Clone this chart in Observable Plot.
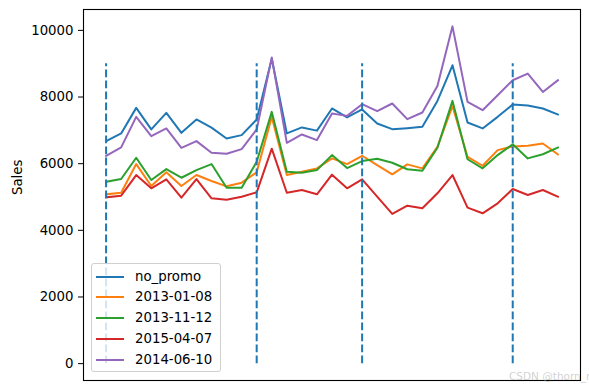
<!DOCTYPE html>
<html><head><meta charset="utf-8">
<script src="https://cdn.jsdelivr.net/npm/d3@7"></script>
<script src="https://cdn.jsdelivr.net/npm/@observablehq/plot@0.6"></script>
<style>
body{margin:0;background:#fff;font-family:"DejaVu Sans",sans-serif;}
#wrap{position:relative;width:589px;height:389px;}
.legend{position:absolute;left:91px;top:263px;width:130px;height:109px;box-sizing:border-box;border:1px solid #d0d0d0;border-radius:3px;background:rgba(255,255,255,0.8);}
.row{position:absolute;left:0;height:20px;width:128px;}
.sw{position:absolute;left:4px;top:9px;width:28px;height:2px;}
.lb{position:absolute;left:43px;top:1px;font-size:13.3px;line-height:18px;color:#000;}
.wm{position:absolute;left:509px;top:370px;font-size:10.5px;color:rgba(170,170,170,0.55);white-space:nowrap;}
</style></head>
<body><div id="wrap"></div>
<script>
const seriesNames = ["no_promo", "2013-01-08", "2013-11-12", "2015-04-07", "2014-06-10"];
const colors = ["#1f77b4", "#ff7f0e", "#2ca02c", "#d62728", "#9467bd"];
const noPromo = [6677, 6907, 7674, 7027, 7524, 6925, 7326, 7080, 6757, 6856, 7326, 9152, 6907, 7087, 6991, 7656, 7386, 7626, 7207, 7036, 7066, 7105, 7883, 8952, 7236, 7057, 7405, 7775, 7745, 7655, 7476];
const s20130108 = [5081, 5129, 5988, 5329, 5740, 5329, 5659, 5480, 5320, 5430, 5740, 7404, 5659, 5758, 5859, 6158, 5988, 6237, 5958, 5680, 5979, 5859, 6506, 7725, 6207, 5938, 6407, 6517, 6537, 6607, 6277];
const s20131112 = [5458, 5539, 6177, 5509, 5838, 5578, 5808, 5988, 5278, 5278, 6057, 7554, 5758, 5728, 5808, 6257, 5868, 6078, 6148, 6027, 5833, 5788, 6476, 7884, 6133, 5859, 6257, 6582, 6158, 6282, 6482];
const s20150407 = [4991, 5039, 5659, 5260, 5530, 4980, 5539, 4961, 4920, 5009, 5141, 6450, 5129, 5210, 5081, 5670, 5260, 5530, 5010, 4491, 4740, 4661, 5110, 5659, 4680, 4511, 4810, 5240, 5060, 5210, 5010];
const s20140610 = [6237, 6488, 7404, 6826, 7057, 6476, 6677, 6326, 6296, 6437, 7027, 9183, 6626, 6877, 6707, 7506, 7434, 7784, 7575, 7805, 7335, 7536, 8332, 10120, 7854, 7605, 8054, 8503, 8703, 8153, 8503];
const promoIdx = [0, 10, 17, 27];
const vlineLow = 0, vlineHigh = 9000;
const yTicks = [0, 2000, 4000, 6000, 8000, 10000];
const yLabel = "Sales";

const allSeries = [noPromo, s20130108, s20131112, s20150407, s20140610];
const rows = [];
allSeries.forEach((arr, k) => arr.forEach((v, i) => rows.push({series: seriesNames[k], i, v})));
const vlines = promoIdx.map(x => ({x, y1: vlineLow, y2: vlineHigh}));

const n = noPromo.length;
const xPad = (n - 1) * 0.05;
const allVals = rows.map(d => d.v).concat([vlineLow, vlineHigh]);
const yMin = d3.min(allVals), yMax = d3.max(allVals);
const yPad = (yMax - yMin) * 0.05;

const chart = Plot.plot({
  width: 589, height: 389,
  marginLeft: 83, marginRight: 9, marginTop: 9, marginBottom: 9,
  style: {fontFamily: "DejaVu Sans, sans-serif", fontSize: "13.3px", color: "#000", background: "#fff"},
  x: {domain: [-xPad, n - 1 + xPad], axis: null},
  y: {domain: [yMin - yPad, yMax + yPad]},
  color: {domain: seriesNames, range: colors},
  marks: [
    Plot.line(rows, {x: "i", y: "v", z: "series", stroke: "series", strokeWidth: 2, strokeLinejoin: "round", strokeLinecap: "square"}),
    Plot.ruleX(vlines, {x: "x", y1: "y1", y2: "y2", stroke: "#1f77b4", strokeWidth: 2, strokeDasharray: "7.7,3.3"}),
    Plot.axisY({ticks: yTicks, tickSize: 5, tickPadding: 5, tickFormat: d => String(d), label: null, stroke: "#000"}),
    Plot.text([yLabel], {frameAnchor: "left", dx: -66, rotate: -90, text: d => d, fill: "#000"}),
    Plot.frame({stroke: "#000", strokeWidth: 1.1})
  ]
});
const wrap = document.getElementById("wrap");
wrap.appendChild(chart);

const leg = document.createElement("div");
leg.className = "legend";
seriesNames.forEach((name, k) => {
  const r = document.createElement("div");
  r.className = "row";
  r.style.top = (2.5 + k * 20.8) + "px";
  const sw = document.createElement("div");
  sw.className = "sw";
  sw.style.background = colors[k];
  const lb = document.createElement("div");
  lb.className = "lb";
  lb.textContent = name;
  r.appendChild(sw); r.appendChild(lb);
  leg.appendChild(r);
});
wrap.appendChild(leg);
const wm = document.createElement("div");
wm.className = "wm";
wm.textContent = "CSDN @thorn_r";
wrap.appendChild(wm);
</script>
</body></html>
